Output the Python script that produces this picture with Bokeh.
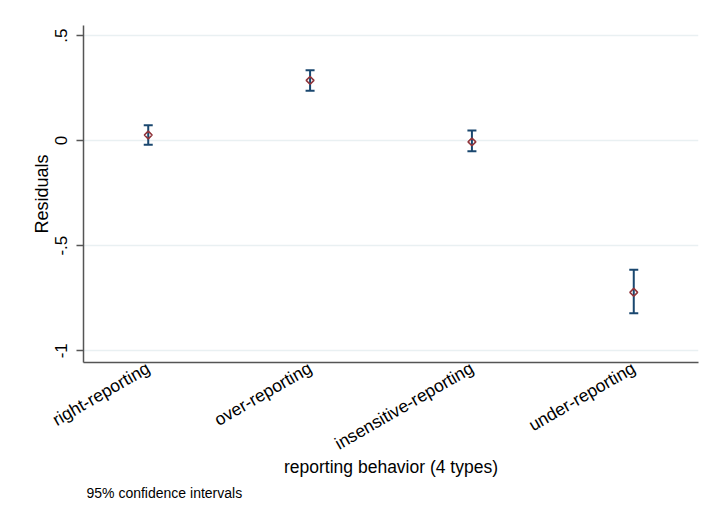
import math
from bokeh.plotting import figure
from bokeh.models import (ColumnDataSource, FixedTicker, Range1d, Whisker,
                          TeeHead, Title)
from bokeh.embed import file_html
from bokeh.resources import INLINE

# ---- data ----
categories = ["right-reporting", "over-reporting", "insensitive-reporting", "under-reporting"]
estimates = [0.027, 0.287, -0.006, -0.722]
ci_lower = [-0.019, 0.238, -0.051, -0.821]
ci_upper = [0.073, 0.335, 0.048, -0.614]
y_ticks = [-1, -0.5, 0, 0.5]
y_tick_labels = ["-1", "-.5", "0", ".5"]
x_title = "reporting behavior (4 types)"
y_title = "Residuals"
note = "95% confidence intervals"

positions = list(range(1, len(categories) + 1))
src = ColumnDataSource(dict(x=positions, y=estimates, lo=ci_lower, hi=ci_upper))

FONT = "Liberation Sans"
NAVY = "#1a476f"
MAROON = "#90353b"
AXIS = "#555555"
GRID = "#e9f0f2"

p = figure(width=700, height=504, output_backend="svg", toolbar_location=None,
           x_range=Range1d(0.6, 4.4), y_range=Range1d(-1.056, 0.548),
           min_border_left=83, min_border_right=2, min_border_top=25,
           min_border_bottom=142)
p.outline_line_color = None
p.background_fill_color = "white"
p.border_fill_color = "white"

# grid
p.xgrid.grid_line_color = None
p.ygrid.ticker = FixedTicker(ticks=y_ticks)
p.ygrid.grid_line_color = GRID
p.ygrid.grid_line_width = 1.5

# x axis
xa = p.xaxis[0]
xa.ticker = FixedTicker(ticks=positions)
xa.major_label_overrides = {pos: c for pos, c in zip(positions, categories)}
xa.major_label_orientation = math.pi / 6
xa.major_label_text_font = FONT
xa.major_label_text_font_size = "17.5px"
xa.major_label_text_color = "black"
xa.major_label_standoff = 4
xa.major_tick_out = 0
xa.major_tick_in = 0
xa.minor_tick_out = 0
xa.minor_tick_in = 0
xa.axis_line_color = AXIS
xa.axis_line_width = 1.5
xa.axis_label = x_title
xa.axis_label_text_font = FONT
xa.axis_label_text_font_size = "17.5px"
xa.axis_label_text_font_style = "normal"
xa.axis_label_text_color = "black"
xa.axis_label_standoff = -8

# y axis
ya = p.yaxis[0]
ya.ticker = FixedTicker(ticks=y_ticks)
ya.major_label_overrides = {t: l for t, l in zip(y_ticks, y_tick_labels)}
ya.major_label_orientation = "vertical"
ya.major_label_text_font = FONT
ya.major_label_text_font_size = "17px"
ya.major_label_text_color = "black"
ya.major_label_standoff = 9
ya.major_tick_out = 7
ya.major_tick_in = 0
ya.major_tick_line_color = AXIS
ya.major_tick_line_width = 1.3
ya.minor_tick_out = 0
ya.minor_tick_in = 0
ya.axis_line_color = AXIS
ya.axis_line_width = 1.5
ya.axis_label = y_title
ya.axis_label_text_font = FONT
ya.axis_label_text_font_size = "18px"
ya.axis_label_text_font_style = "normal"
ya.axis_label_text_color = "black"
ya.axis_label_standoff = 1

# error bars
w = Whisker(source=src, base="x", lower="lo", upper="hi",
            line_color=NAVY, line_width=2,
            upper_head=TeeHead(size=9, line_color=NAVY, line_width=2),
            lower_head=TeeHead(size=9, line_color=NAVY, line_width=2))
p.add_layout(w)

# markers (hollow diamonds)
p.scatter("x", "y", source=src, marker="square", angle=math.pi / 4, size=5.5,
          fill_color=None, line_color=MAROON, line_width=1.6)

# note below the x axis
p.add_layout(Title(text=note, align="left", offset=3, standoff=4,
                   text_font=FONT, text_font_size="14px", text_color="black",
                   text_font_style="normal"), "below")

open("out.html", "w").write(file_html(p, INLINE))
